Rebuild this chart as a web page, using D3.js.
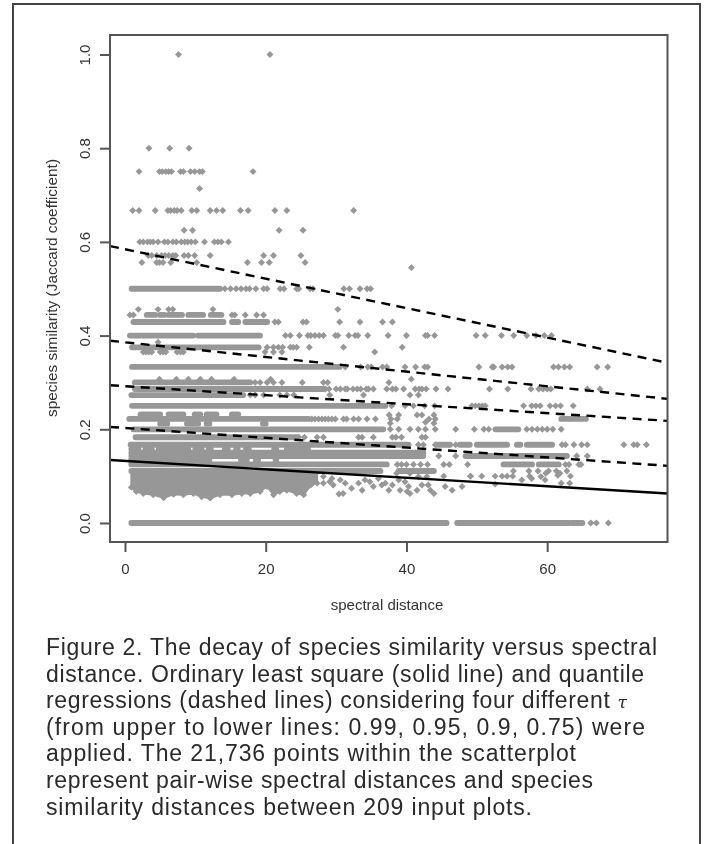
<!DOCTYPE html>
<html lang="en">
<head>
    <meta charset="UTF-8">
    <title>Species similarity versus spectral distance</title>
    <style>
        body { margin: 0; background: #fff; }
        svg { display: block; filter: blur(0.45px); }
        text { font-family: 'Liberation Sans', Arial, sans-serif; fill: #333; }
        .caption text { font-size: 23px; fill: #2a2a2a; }
    </style>
</head>
<body>
    <div id="chart"></div>

    <script src="https://cdnjs.cloudflare.com/ajax/libs/d3/7.8.5/d3.min.js"></script>
    <script>
        // axis ticks
        const xTicks = [0, 20, 40, 60];
        const yTicks = [0, 0.2, 0.4, 0.6, 0.8, 1.0];

        // regression lines, read at the left and right edge of the box
        const lineX = [-2.13, 77.1];
        const quantile99 = [0.591, 0.342];
        const quantile95 = [0.389, 0.265];
        const quantile90 = [0.294, 0.218];
        const quantile75 = [0.205, 0.122];
        const leastSquare = [0.1345, 0.063];

        // stretches where the points overlap into a solid stripe: [similarity, from, to]
        const stripes = [
            [0, 0.9, 45.7], [0, 47.2, 63], [0, 63.4, 65],
            [0.5, 0.95, 13.5],
            [0.444, 3.1, 4.3], [0.444, 5, 5.6], [0.444, 6.2, 8.1], [0.444, 9, 11.1], [0.444, 12.2, 13.7],
            [0.429, 1.2, 14], [0.429, 15.2, 16.1], [0.429, 17.1, 20.2],
            [0.4, 0.7, 9.7], [0.4, 10.4, 19.2],
            [0.375, 1, 19],
            [0.333, 1, 30.5],
            [0.3, 1.4, 17.8],
            [0.286, 1.4, 28.2],
            [0.273, 0.9, 16.8],
            [0.25, 1, 37],
            [0.232, 2.2, 5], [0.232, 6.2, 8.3], [0.232, 9.9, 10.7], [0.232, 11.6, 13], [0.232, 15.2, 16.1],
            [0.222, 0.6, 26.1], [0.222, 62, 65.5],
            [0.212, 5, 6], [0.212, 8.8, 10.4], [0.212, 11.6, 12], [0.212, 19.6, 20],
            [0.2, 1.2, 36.7], [0.2, 52.65, 55.9],
            [0.183, 1.5, 24.5],
            [0.167, 0.8, 28.7], [0.167, 29, 40.3], [0.167, 44.3, 46.2], [0.167, 47.6, 49],
            [0.167, 50, 54.3], [0.167, 55.7, 56.2], [0.167, 57.1, 60.7],
            [0.158, 0.9, 1.9], [0.158, 2.9, 3.8], [0.158, 4.8, 9], [0.158, 10, 10.9], [0.158, 11.9, 12.2],
            [0.158, 14.2, 14.6], [0.158, 15.8, 16], [0.158, 17.2, 17.6], [0.158, 21.2, 21.5], [0.158, 23, 26],
            [0.15, 0.9, 42.4],
            [0.143, 0.9, 42.4], [0.143, 48.4, 62.8],
            [0.136, 0.9, 12], [0.136, 16.5, 17.3], [0.136, 18.6, 18.9], [0.136, 21.4, 21.5],
            [0.13, 0.9, 12], [0.13, 16.5, 17.3], [0.13, 18.6, 18.9], [0.13, 21.4, 21.5],
            [0.125, 0.9, 37.2], [0.125, 53.8, 57.85], [0.125, 58.8, 61.65],
            [0.111, 0.9, 36.3], [0.111, 38.9, 43.9]
        ];

        // separate points on the rows the index values fall on
        const rowLevels = [1, 0.8, 0.75, 0.714, 0.667, 0.625, 0.6, 0.571, 0.556, 0.545, 0.5, 0.456, 0.444, 0.429, 0.4, 0.386, 0.375, 0.365, 0.333, 0.307, 0.3, 0.286, 0.273, 0.25, 0.222, 0.2, 0.183, 0.167, 0.143, 0.125, 0];
        const rowXs = [
            [7.6, 20.6],
            [3.4, 6.35, 9.1],
            [2, 4.9, 5.3, 5.8, 6.2, 6.6, 7.9, 8.3, 9.3, 9.9, 10.6, 11, 18.2],
            [10.6],
            [1.1, 2, 4.3, 6.1, 6.5, 7, 7.4, 8, 9.5, 10.2, 12.1, 13, 13.9, 16.4, 17.5, 21.3, 23, 32.5],
            [8.4, 9.6, 21.9, 25.3],
            [2.1, 2.6, 3.2, 3.6, 4, 4.7, 5.6, 6.1, 6.8, 7.3, 8, 8.5, 8.9, 9.4, 10, 11.3, 12.7, 13.2, 13.7, 14.7],
            [3.3, 3.8, 4.5, 5.2, 5.7, 6.2, 6.8, 7.2, 8.4, 9, 9.9, 12.1, 19.7, 21.1, 25],
            [2.4, 4.5, 4.9, 5.4, 6.5, 10.2, 17.4, 19.4, 20.5, 25.6],
            [40.7],
            [14.2, 15, 15.8, 16.5, 17.2, 17.7, 18.6, 19.7, 20.2, 22.05, 22.6, 24.4, 24.7, 26.3, 26.7, 31.1, 31.9, 33.4, 34.4, 34.9],
            [1.9, 4.7, 6.2, 6.8, 12.5, 30.25],
            [0.7, 1.2, 15.2, 15.6, 17.1, 18.7, 19.7],
            [21.3, 21.8, 25.3, 25.8, 30.5, 33.4, 36.6, 38],
            [22.8, 23.5, 24.8, 26, 26.4, 27, 27.6, 28.2, 29.9, 30.25, 31.8, 32.7, 33.1, 34.5, 37.4, 40, 42.7, 43, 44, 49.9, 51.2, 53.5, 55.25, 57.1, 58.4, 59.6, 60.6],
            [4.7],
            [20.2, 21.1, 21.8, 22.4, 23.5, 23.9, 24.4, 26.2, 31.05, 39.4],
            [2.6, 3, 3.4, 3.8, 5, 5.4, 5.8, 7.4, 7.9, 8.3, 19.9, 21.1, 22.3, 35.5],
            [31.3, 33.5, 34.5, 35, 36.6, 37.2, 39.8, 41.3, 42.6, 43, 50.3, 52.2, 52.4, 53.6, 54.4, 55, 60.9, 61.6, 62.45, 63.2, 67.1, 68.6],
            [4.9, 7.3, 9, 10.7, 12.3, 15.5, 20.7, 40.7],
            [18.5, 19.2, 20.2, 21.1, 22.3, 25.2, 28.2, 28.8, 37.5],
            [28.5, 29, 30, 30.6, 31.3, 31.6, 32.4, 33, 33.5, 34.3, 34.6, 35.3, 37.2, 38, 38.5, 39.6, 41.25, 41.8, 42.2, 42.8, 44.2, 45.9, 51.8, 54.4, 57.7, 58.8, 59.4, 60, 60.5, 65.7, 67.5],
            [17.8, 18.5, 19.7, 22, 23, 24, 29.1, 33.9, 40.5, 41.7],
            [37.9, 39.8, 41, 42.6, 44, 49.3, 49.8, 50.3, 50.8, 51.2, 56.65, 57.8, 58.4, 59, 60.4, 61.2, 61.9, 63.7],
            [26.55, 27, 27.5, 28, 28.45, 28.9, 29.4, 29.9, 31.05, 31.5, 32.5, 33.2, 34.4, 35.6, 38.7, 43.2, 44.1],
            [37.7, 38.9, 40.5, 41.7, 42.7, 44.1, 47, 49.65, 51, 51.7, 57.1, 57.85, 58.6, 59.3, 60, 60.8, 62],
            [24.7, 25.5, 27.3, 28.2, 33.2, 33.7, 35.3, 38, 38.5, 39.3, 42.2, 42.7],
            [41.7, 42.4, 44.1, 47, 62.1, 62.6, 63.8, 64.9, 65.7, 70.9, 72.3, 72.8, 74.1],
            [44.6, 47, 64.2, 65.7],
            [38.7, 39.3, 40, 41, 42, 43, 45.3, 46.1, 48.7, 62.6, 63.1, 64.5, 64.8],
            [66.2, 67, 68.7]
        ];

        // loose points under the stripes
        const looseX = [
            28.2, 29.1, 28.2, 29.4, 30.4, 31, 29.6, 30.6, 31.3, 32.2, 33.2, 33.7, 34.1, 34.8, 35.3, 36, 36.5, 37, 37.5, 38,
            39.1, 38.9, 39.8, 40.3, 40.1, 40.5, 41.5, 42.2, 43.1, 43.4, 43.9, 45.5, 46.5, 47.9, 41.7, 40.5, 42.9, 45.3, 49.1, 38.6,
            37.55, 37.8, 38.9, 37.7, 41.5, 42.2, 42.7, 43.9, 43.9,
            49.1, 50.7, 52.6, 53.6, 54.3, 55.1, 55.2, 56.4, 57.4, 57.5, 57.8, 58.7, 59.1, 59.7, 60.2, 59.8, 61.3, 61.5, 61.8, 62.8, 63.3, 62, 63.2, 52.6
        ];
        const looseY = [
            0.099, 0.088, 0.085, 0.095, 0.062, 0.063, 0.081, 0.092, 0.085, 0.074, 0.085, 0.07, 0.092, 0.088, 0.078, 0.095, 0.081, 0.085, 0.07, 0.081,
            0.07, 0.092, 0.088, 0.078, 0.067, 0.063, 0.07, 0.081, 0.081, 0.07, 0.063, 0.078, 0.07, 0.078, 0.099, 0.106, 0.099, 0.1, 0.1, 0.106,
            0.2305, 0.222, 0.2305, 0.2127, 0.2305, 0.2305, 0.215, 0.2305, 0.213,
            0.1, 0.1, 0.1, 0.1, 0.1, 0.1, 0.111, 0.092, 0.111, 0.1, 0.095, 0.111, 0.099, 0.092, 0.111, 0.106, 0.111, 0.102, 0.106, 0.111, 0.1, 0.085, 0.085, 0.083
        ];

        // the solid mass of points below the least square line: lower edge along x
        const massX = [0.9, 1.6, 2.6, 4, 5.5, 6.9, 8.3, 9.7, 10.9, 12.1, 13.5, 15.2, 16.6, 17.8, 19.2, 20.2, 21.1, 22, 23, 24.4, 25.4, 26.4, 27.3];
        const massLow = [0.076, 0.067, 0.063, 0.06, 0.054, 0.061, 0.06, 0.063, 0.056, 0.053, 0.06, 0.06, 0.063, 0.063, 0.067, 0.078, 0.06, 0.067, 0.07, 0.063, 0.06, 0.081, 0.085];
        const massTop = 0.108;

        const captionLines = [
            "Figure 2. The decay of species similarity versus spectral",
            "distance. Ordinary least square (solid line) and quantile",
            "regressions (dashed lines) considering four different ",
            "(from upper to lower lines: 0.99, 0.95, 0.9, 0.75) were",
            "applied. The 21,736 points within the scatterplot",
            "represent pair-wise spectral distances and species",
            "similarity distances between 209 input plots."
        ];
        const captionWidths = [611, 598, 581, 599, 530, 547, 486];

        const width = 707;
        const height = 844;
        const box = { left: 110, right: 667.5, top: 35, bottom: 542 };
        const grey = "#979797";

        const svg = d3.select("#chart")
            .append("svg")
            .attr("width", width)
            .attr("height", height);

        const x = d3.scaleLinear().domain([-2.13, 77.1]).range([box.left, box.right]);
        const y = d3.scaleLinear().domain([-0.0406, 1.0416]).range([box.bottom, box.top]);

        // page frame, open at the bottom
        svg.append("path")
            .attr("d", `M13,${height} V4 H700 V${height}`)
            .attr("fill", "none")
            .attr("stroke", "#444")
            .attr("stroke-width", 2);

        // solid mass
        svg.append("path")
            .datum(massX.map((d, i) => [d, massLow[i]]))
            .attr("d", d3.area().x(d => x(d[0])).y0(d => y(d[1])).y1(y(massTop)))
            .attr("fill", grey)
            .attr("stroke", grey)
            .attr("stroke-width", 2)
            .attr("stroke-linejoin", "round");

        // stripes
        svg.append("g")
            .selectAll("line")
            .data(stripes)
            .enter()
            .append("line")
            .attr("x1", d => x(d[1]))
            .attr("x2", d => x(d[2]))
            .attr("y1", d => y(d[0]))
            .attr("y2", d => y(d[0]))
            .attr("stroke", grey)
            .attr("stroke-width", 5.8)
            .attr("stroke-linecap", "round");

        // points
        const points = [];
        rowLevels.forEach((level, i) => rowXs[i].forEach(v => points.push([v, level])));
        looseX.forEach((v, i) => points.push([v, looseY[i]]));
        massX.forEach((v, i) => points.push([v, massLow[i]]));

        const diamond = d3.symbol().type(d3.symbolSquare).size(24);
        svg.append("g")
            .selectAll("path")
            .data(points)
            .enter()
            .append("path")
            .attr("d", diamond)
            .attr("transform", d => `translate(${x(d[0])},${y(d[1])}) rotate(45)`)
            .attr("fill", grey);

        // regression lines
        const line = d3.line().x(d => x(d[0])).y(d => y(d[1]));
        [quantile99, quantile95, quantile90, quantile75].forEach(q => {
            svg.append("path")
                .datum(lineX.map((v, i) => [v, q[i]]))
                .attr("d", line)
                .attr("fill", "none")
                .attr("stroke", "#000")
                .attr("stroke-width", 2.4)
                .attr("stroke-dasharray", "9,6.4");
        });
        svg.append("path")
            .datum(lineX.map((v, i) => [v, leastSquare[i]]))
            .attr("d", line)
            .attr("fill", "none")
            .attr("stroke", "#000")
            .attr("stroke-width", 2.4);

        // box
        svg.append("rect")
            .attr("x", box.left)
            .attr("y", box.top)
            .attr("width", box.right - box.left)
            .attr("height", box.bottom - box.top)
            .attr("fill", "none")
            .attr("stroke", "#555")
            .attr("stroke-width", 2);

        // axes
        const xAxis = svg.append("g")
            .attr("transform", `translate(0,${box.bottom})`)
            .call(d3.axisBottom(x).tickValues(xTicks).tickSize(10).tickPadding(11).tickFormat(d3.format("d")));
        xAxis.select(".domain").remove();
        xAxis.selectAll("line").attr("stroke", "#555").attr("stroke-width", 2);
        xAxis.selectAll("text").style("font-size", "15px").style("font-family", "'Liberation Sans'").attr("fill", "#333");

        const yAxis = svg.append("g")
            .attr("transform", `translate(${box.left},0)`)
            .call(d3.axisLeft(y).tickValues(yTicks).tickSize(10).tickFormat(d3.format(".1f")));
        yAxis.select(".domain").remove();
        yAxis.selectAll("line").attr("stroke", "#555").attr("stroke-width", 2);
        yAxis.selectAll("text")
            .attr("x", 0).attr("y", 0).attr("dy", null)
            .attr("text-anchor", "middle")
            .attr("transform", "translate(-24,0) rotate(-90)")
            .attr("dominant-baseline", "middle")
            .style("font-size", "15px")
            .style("font-family", "'Liberation Sans'")
            .attr("fill", "#333");

        // axis titles
        svg.append("text")
            .attr("x", 387)
            .attr("y", 610)
            .attr("text-anchor", "middle")
            .style("font-size", "15px")
            .text("spectral distance");

        svg.append("text")
            .attr("transform", "translate(57,288) rotate(-90)")
            .attr("text-anchor", "middle")
            .style("font-size", "15.4px")
            .text("species similarity (Jaccard coefficient)");

        // caption
        const caption = svg.append("g").attr("class", "caption");
        captionLines.forEach((t, i) => {
            const row = caption.append("text")
                .attr("x", 46)
                .attr("y", 655 + i * 26.6)
                .attr("textLength", captionWidths[i])
                .attr("lengthAdjust", "spacing")
                .text(t);
            if (i === 2) {
                row.append("tspan")
                    .style("font-family", "'DejaVu Serif'")
                    .style("font-style", "italic")
                    .style("font-size", "17px")
                    .text("τ");
            }
        });
    </script>
</body>
</html>
